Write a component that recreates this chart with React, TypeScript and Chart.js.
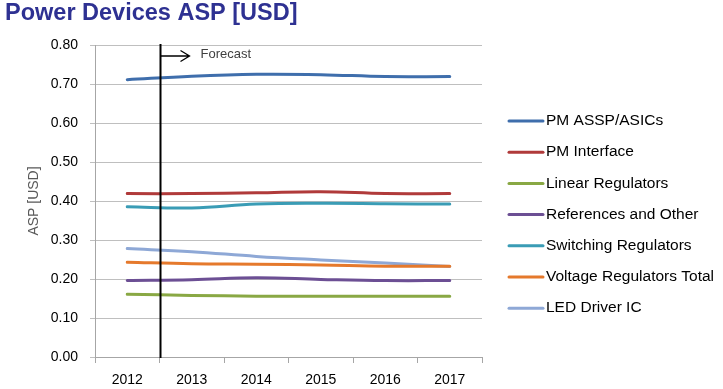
import React, { useEffect, useRef } from "react";
import { Chart, registerables } from "chart.js";

Chart.register(...registerables);

const years = ["2012", "2013", "2014", "2015", "2016", "2017"];
const seriesNames = [
  "PM ASSP/ASICs",
  "PM Interface",
  "Linear Regulators",
  "References and Other",
  "Switching Regulators",
  "Voltage Regulators Total",
  "LED Driver IC",
];
const pmAssp = [0.711, 0.72, 0.725, 0.724, 0.719, 0.719];
const pmInterface = [0.419, 0.419, 0.421, 0.424, 0.419, 0.419];
const linearRegs = [0.161, 0.158, 0.156, 0.156, 0.156, 0.156];
const referencesOther = [0.196, 0.198, 0.203, 0.199, 0.196, 0.196];
const switchingRegs = [0.385, 0.382, 0.392, 0.394, 0.393, 0.392];
const voltageTotal = [0.243, 0.239, 0.238, 0.236, 0.233, 0.233];
const ledDriver = [0.278, 0.27, 0.258, 0.249, 0.241, 0.232];
const seriesValues = [pmAssp, pmInterface, linearRegs, referencesOther, switchingRegs, voltageTotal, ledDriver];
const seriesColors = ["#3F6EAC", "#B03A3A", "#89A844", "#6C4F94", "#3A9CB5", "#E5792C", "#8EA8D6"];
const yTicks = [0, 0.1, 0.2, 0.3, 0.4, 0.5, 0.6, 0.7, 0.8];
const titleText = "Power Devices ASP [USD]";
const forecastText = "Forecast";

const FONT = "'Liberation Sans', Arial, sans-serif";

const overlayPlugin = {
  id: "overlay",
  afterDraw(chart: any) {
    const ctx = chart.ctx;
    const xs = chart.scales.x;
    const area = chart.chartArea;
    ctx.save();
    // Title
    ctx.font = `bold 23.5px ${FONT}`;
    ctx.fillStyle = "#2E3192";
    ctx.textBaseline = "alphabetic";
    ctx.textAlign = "left";
    ctx.fillText(titleText, 5, 20);

    // Forecast divider
    const fx = Math.round(xs.getPixelForValue(0.5)) + 0.5;
    ctx.strokeStyle = "#000";
    ctx.lineWidth = 2;
    ctx.beginPath();
    ctx.moveTo(fx, area.top - 1);
    ctx.lineTo(fx, area.bottom + 1);
    ctx.stroke();
    ctx.lineWidth = 1.3;
    ctx.beginPath();
    ctx.moveTo(fx, 56);
    ctx.lineTo(fx + 29, 56);
    ctx.moveTo(fx + 20, 50.5);
    ctx.lineTo(fx + 29, 56);
    ctx.lineTo(fx + 20, 61.5);
    ctx.stroke();
    ctx.font = `13px ${FONT}`;
    ctx.fillStyle = "#404040";
    ctx.textBaseline = "middle";
    ctx.fillText(forecastText, fx + 40, 54);

    // Legend
    ctx.font = `15.5px ${FONT}`;
    ctx.fillStyle = "#000";
    chart.data.datasets.forEach((ds: any, i: number) => {
      const y = 121 + i * 31.2;
      ctx.strokeStyle = ds.borderColor;
      ctx.lineWidth = 3;
      ctx.lineCap = "round";
      ctx.beginPath();
      ctx.moveTo(509, y);
      ctx.lineTo(543, y);
      ctx.stroke();
      ctx.fillText(ds.label, 546, y);
    });
    ctx.restore();
  },
};

export default function App() {
  const ref = useRef<HTMLCanvasElement>(null);
  useEffect(() => {
    if (!ref.current) return;
    const chart = new Chart(ref.current, {
      type: "line",
      data: {
        labels: years,
        datasets: seriesNames.map((name, i) => ({
          label: name,
          data: seriesValues[i],
          borderColor: seriesColors[i],
          backgroundColor: seriesColors[i],
          borderWidth: 3,
          pointRadius: 0,
          tension: 0.4,
          borderCapStyle: "round" as const,
          fill: false,
        })),
      },
      options: {
        animation: false,
        responsive: false,
        layout: { padding: { top: 45, right: 241, bottom: 0, left: 0 } },
        plugins: {
          legend: { display: false },
          title: { display: false },
          tooltip: { enabled: false },
        },
        scales: {
          x: {
            offset: true,
            grid: {
              offset: true,
              drawOnChartArea: false,
              drawTicks: true,
              tickLength: 6,
              color: "#A6A6A6",
            },
            border: { color: "#A6A6A6" },
            ticks: { font: { family: FONT, size: 14 }, color: "#000", padding: 9 },
            afterFit(scale: any) {
              scale.height = 32;
            },
          },
          y: {
            min: 0,
            max: 0.8,
            afterBuildTicks(scale: any) {
              scale.ticks = yTicks.map((v) => ({ value: v }));
            },
            grid: { color: "#BFBFBF", tickLength: 5, drawTicks: true },
            border: { color: "#A6A6A6" },
            ticks: {
              font: { family: FONT, size: 14 },
              color: "#000",
              padding: 12,
              callback: (v: any) => Number(v).toFixed(2),
            },
            title: {
              display: true,
              text: "ASP [USD]",
              color: "#595959",
              font: { family: FONT, size: 14 },
              padding: { top: 26, bottom: 0 },
            },
            afterFit(scale: any) {
              scale.width = 95;
            },
          },
        },
      },
      plugins: [overlayPlugin],
    });
    return () => chart.destroy();
  }, []);
  return (
    <div style={{ position: "fixed", left: 0, top: 0, width: 723, height: 389, background: "#fff" }}>
      <canvas ref={ref} width={723} height={389} style={{ display: "block" }} />
    </div>
  );
}
